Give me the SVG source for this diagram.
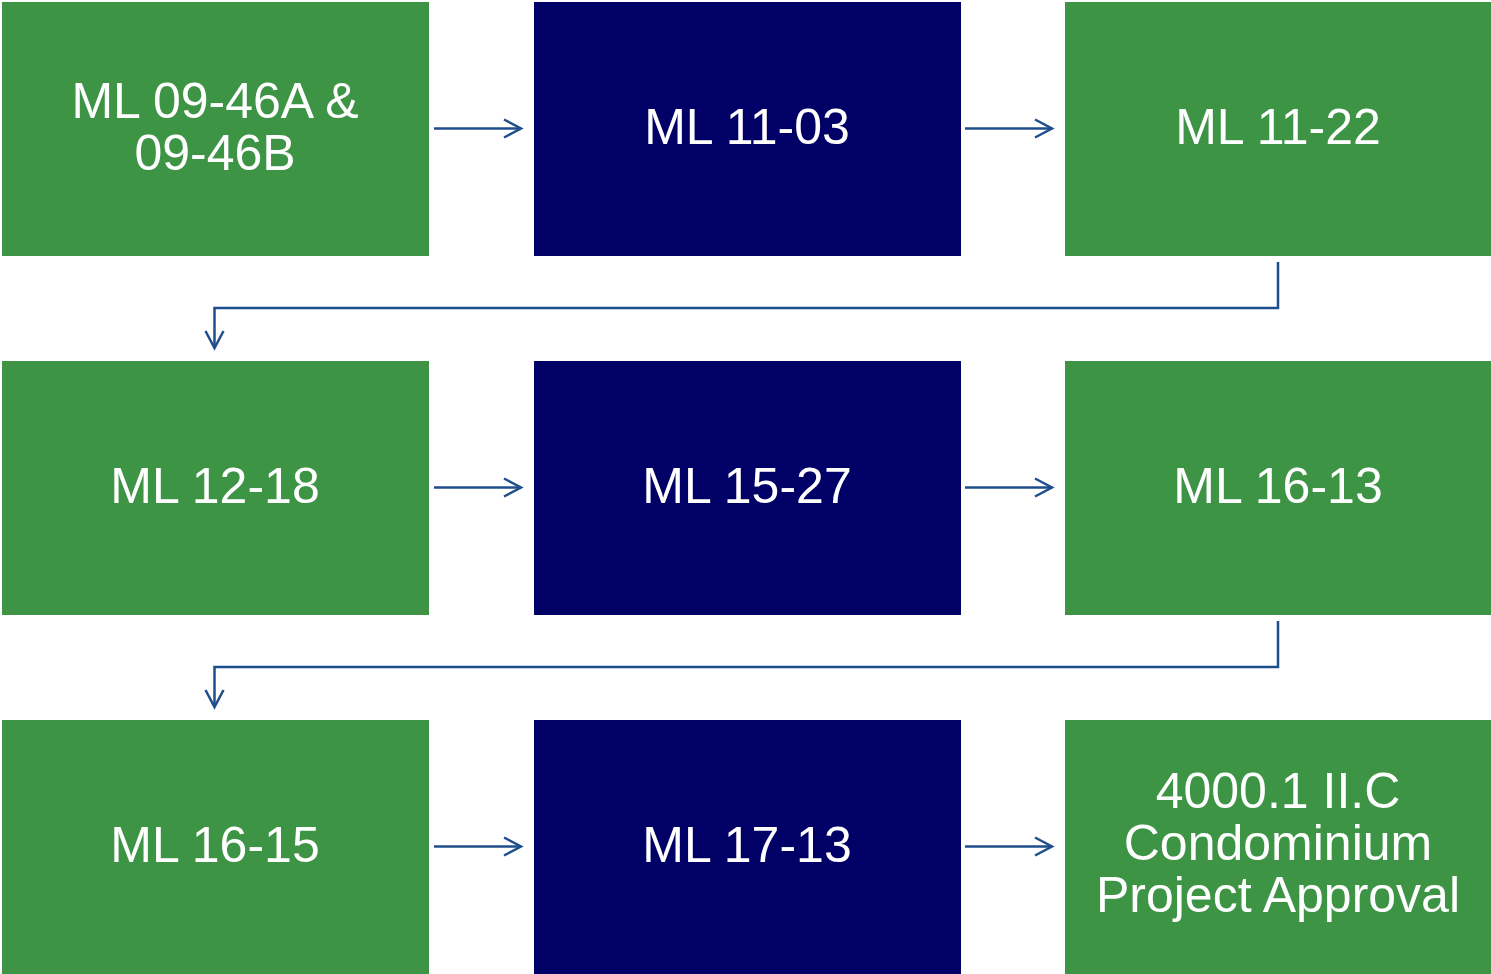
<svg xmlns="http://www.w3.org/2000/svg" width="1491" height="974" viewBox="0 0 1491 974">
<defs>
<style>
.g{fill:#3D9445}
.n{fill:#000066}
.t{fill:#ffffff;font-family:"Liberation Sans",Arial,sans-serif;font-size:50px;text-anchor:middle}
.c{fill:none;stroke:#1F4E8C;stroke-width:2.5}
</style>
<marker id="ah" markerUnits="userSpaceOnUse" markerWidth="24" markerHeight="24" viewBox="-20 -12 24 24" refX="0" refY="0" orient="auto">
<path d="M-17,-9 L0,0 L-17,9" fill="none" stroke="#1F4E8C" stroke-width="2.5"/>
</marker>
</defs>
<rect width="1491" height="974" fill="#ffffff"/>
<g id="connectors">
<line class="c" x1="434" y1="128.5" x2="521" y2="128.5" marker-end="url(#ah)"/>
<line class="c" x1="965" y1="128.5" x2="1052" y2="128.5" marker-end="url(#ah)"/>
<path class="c" d="M1278,262 V308 H214.5 V348" marker-end="url(#ah)"/>
<line class="c" x1="434" y1="487.5" x2="521" y2="487.5" marker-end="url(#ah)"/>
<line class="c" x1="965" y1="487.5" x2="1052" y2="487.5" marker-end="url(#ah)"/>
<path class="c" d="M1278,621 V667 H214.5 V707" marker-end="url(#ah)"/>
<line class="c" x1="434" y1="846.5" x2="521" y2="846.5" marker-end="url(#ah)"/>
<line class="c" x1="965" y1="846.5" x2="1052" y2="846.5" marker-end="url(#ah)"/>
</g>
<g id="n1"><rect class="g" x="2" y="2" width="427" height="254"/><text class="t" x="215" y="118">ML 09-46A &amp;</text><text class="t" x="215" y="170">09-46B</text></g>
<g id="n2"><rect class="n" x="534" y="2" width="427" height="254"/><text class="t" x="747" y="144">ML 11-03</text></g>
<g id="n3"><rect class="g" x="1065" y="2" width="426" height="254"/><text class="t" x="1278" y="144">ML 11-22</text></g>
<g id="n4"><rect class="g" x="2" y="361" width="427" height="254"/><text class="t" x="215" y="503">ML 12-18</text></g>
<g id="n5"><rect class="n" x="534" y="361" width="427" height="254"/><text class="t" x="747" y="503">ML 15-27</text></g>
<g id="n6"><rect class="g" x="1065" y="361" width="426" height="254"/><text class="t" x="1278" y="503">ML 16-13</text></g>
<g id="n7"><rect class="g" x="2" y="720" width="427" height="254"/><text class="t" x="215" y="862">ML 16-15</text></g>
<g id="n8"><rect class="n" x="534" y="720" width="427" height="254"/><text class="t" x="747" y="862">ML 17-13</text></g>
<g id="n9"><rect class="g" x="1065" y="720" width="426" height="254"/><text class="t" x="1278" y="808">4000.1 II.C</text><text class="t" x="1278" y="860">Condominium</text><text class="t" x="1278" y="912">Project Approval</text></g>
</svg>
